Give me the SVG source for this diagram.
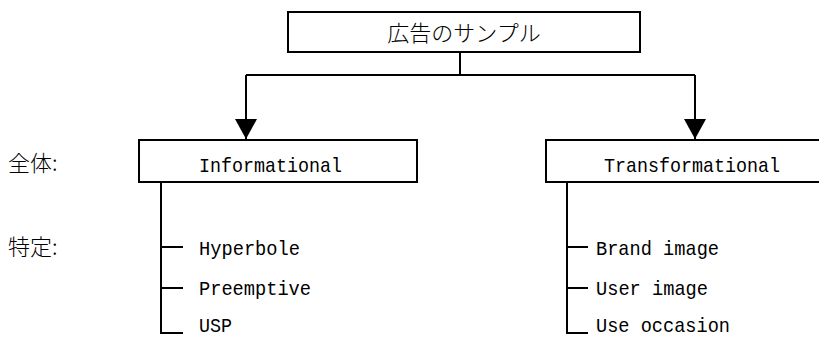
<svg xmlns="http://www.w3.org/2000/svg" width="819" height="338" viewBox="0 0 819 338">
<defs>
<style>
.box{fill:#fff;stroke:#000;stroke-width:2}
.ln{fill:none;stroke:#000;stroke-width:2}
.jp{font-family:"Noto Sans CJK JP","Liberation Serif",serif;font-size:22px;font-weight:300;fill:#000}
.en{font-family:"Liberation Mono","DejaVu Sans Mono",monospace;font-size:21px;fill:#000}
</style>
<marker id="arr" markerUnits="userSpaceOnUse" markerWidth="22" markerHeight="22" refX="20" refY="11" orient="auto" viewBox="0 0 22 22">
<path d="M0,0 L20,11 L0,22 Z" fill="#000"/>
</marker>
</defs>
<rect width="819" height="338" fill="#fff"/>
<g id="connectors">
<path class="ln" d="M460,52 V75 M246,75 H695"/>
<path class="ln" d="M246,75 V139" marker-end="url(#arr)"/>
<path class="ln" d="M695,75 V139" marker-end="url(#arr)"/>
<path class="ln" d="M161,182 V333 H183 M161,247 H183 M161,288 H183"/>
<path class="ln" d="M567,182 V333 H588 M567,247 H588 M567,288 H588"/>
</g>
<g id="root">
<rect class="box" x="288" y="12" width="352" height="40"/>
<text class="jp" x="464" y="41" text-anchor="middle">広告のサンプル</text>
</g>
<g id="informational">
<rect class="box" x="139" y="140" width="278" height="42"/>
<text class="en" x="199" y="172" textLength="143" lengthAdjust="spacingAndGlyphs">Informational</text>
</g>
<g id="transformational">
<rect class="box" x="546" y="140" width="300" height="42"/>
<text class="en" x="604" y="172" textLength="176" lengthAdjust="spacingAndGlyphs">Transformational</text>
</g>
<g id="labels">
<text class="jp" x="8" y="171">全体:</text>
<text class="jp" x="8" y="255">特定:</text>
</g>
<g id="informational-items">
<text class="en" x="199" y="255" textLength="101" lengthAdjust="spacingAndGlyphs">Hyperbole</text>
<text class="en" x="199" y="295" textLength="112" lengthAdjust="spacingAndGlyphs">Preemptive</text>
<text class="en" x="199" y="332" textLength="33" lengthAdjust="spacingAndGlyphs">USP</text>
</g>
<g id="transformational-items">
<text class="en" x="596" y="255" textLength="123" lengthAdjust="spacingAndGlyphs">Brand image</text>
<text class="en" x="596" y="295" textLength="112" lengthAdjust="spacingAndGlyphs">User image</text>
<text class="en" x="596" y="332" textLength="134" lengthAdjust="spacingAndGlyphs">Use occasion</text>
</g>
</svg>
